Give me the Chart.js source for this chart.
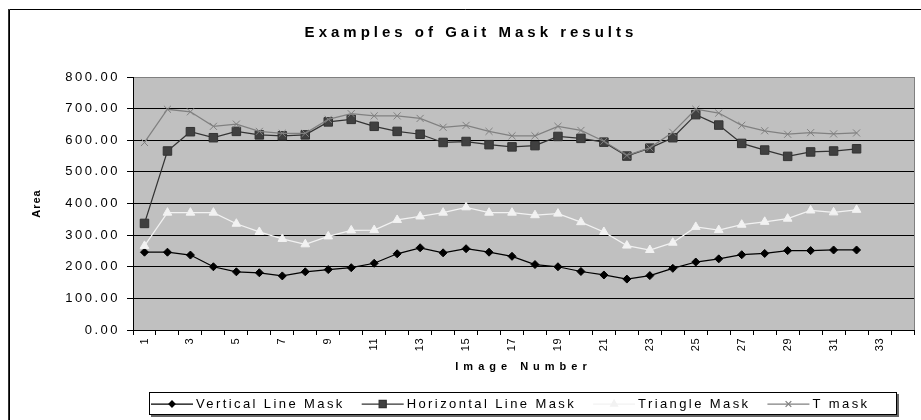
<!DOCTYPE html>
<html>
<head>
<meta charset="utf-8">
<title>Examples of Gait Mask results</title>
<script src="https://cdn.jsdelivr.net/npm/chart.js@4.4.0/dist/chart.umd.min.js"></script>
<style>
  html, body { margin: 0; padding: 0; background: #fff; }
  #wrap { width: 921px; height: 420px; }
</style>
</head>
<body>
<div id="wrap"><canvas id="chart" width="921" height="420"></canvas></div>
<script>
// Data
const imageNumbers = ['1', '2', '3', '4', '5', '6', '7', '8', '9', '10', '11', '12', '13', '14', '15', '16', '17',
    '18', '19', '20', '21', '22', '23', '24', '25', '26', '27', '28', '29', '30', '31', '32', '33', '34'];
const verticalLine = [246, 246, 237, 200, 184, 181, 171, 184, 191, 197, 211, 241, 260, 244, 257, 246,
    233, 207, 200, 185, 174, 161, 172, 195, 215, 225, 238, 242, 251, 251, 253, 253];
const horizontalLine = [337, 566, 627, 608, 628, 617, 614, 617, 658, 666, 644, 628, 619, 593, 596, 586,
    579, 583, 612, 606, 594, 550, 575, 608, 681, 648, 590, 569, 549, 563, 566, 573];
const triangleMask = [266, 371, 371, 371, 336, 310, 288, 271, 296, 315, 316, 348, 359, 371, 388, 371,
    371, 363, 368, 341, 310, 267, 253, 276, 326, 316, 333, 342, 352, 378, 372, 380];
const tMask = [593, 698, 690, 644, 651, 628, 622, 622, 666, 684, 677, 677, 669, 641, 647, 628,
    614, 614, 644, 631, 597, 552, 576, 625, 698, 686, 647, 630, 619, 624, 620, 623];

const chartTitle = 'Examples of Gait Mask results';
const FONT = '"Liberation Sans", Arial, sans-serif';

// Excel-like plot background, frame and right border
const plotFrame = {
    id: 'plotFrame',
    beforeDraw(chart) {
        const { ctx, chartArea: a } = chart;
        ctx.save();
        ctx.fillStyle = '#c0c0c0';
        ctx.fillRect(a.left, a.top, a.right - a.left, a.bottom - a.top);
        // outer chart frame (cropped on the right and bottom)
        ctx.strokeStyle = '#000';
        ctx.lineWidth = 1;
        ctx.beginPath();
        ctx.moveTo(9.5, 420);
        ctx.lineTo(9.5, 9.5);
        ctx.lineTo(921, 9.5);
        ctx.stroke();
        ctx.fillStyle = '#333';
        ctx.fillRect(8, 9, 1, 411);
        ctx.restore();
    },
    beforeDatasetsDraw(chart) {
        const { ctx, chartArea: a } = chart;
        ctx.save();
        ctx.strokeStyle = '#808080';
        ctx.lineWidth = 1;
        ctx.beginPath();
        ctx.moveTo(Math.round(a.right) + 0.5, a.top);
        ctx.lineTo(Math.round(a.right) + 0.5, a.bottom);
        ctx.stroke();
        ctx.restore();
    }
};

// Chart.js has no letter spacing option, so wrap the scale text drawing
const spacedText = {
    id: 'spacedText',
    afterUpdate(chart) {
        const wrap = (scale, labels, title) => {
            if (scale._spaced) return;
            scale._spaced = true;
            const drawLabels = scale.drawLabels;
            const drawTitle = scale.drawTitle;
            scale.drawLabels = function (area) {
                this.ctx.letterSpacing = labels;
                drawLabels.call(this, area);
                this.ctx.letterSpacing = '0px';
            };
            scale.drawTitle = function () {
                this.ctx.letterSpacing = title;
                drawTitle.call(this);
                this.ctx.letterSpacing = '0px';
            };
        };
        wrap(chart.scales.x, '0.5px', '5px');
        wrap(chart.scales.y, '2.5px', '1px');
    }
};

// Title and boxed legend in the old Excel style
const titleAndLegend = {
    id: 'titleAndLegend',
    afterDraw(chart) {
        const { ctx } = chart;
        ctx.save();
        ctx.fillStyle = '#000';
        ctx.font = `bold 15px ${FONT}`;
        ctx.letterSpacing = '4px';
        ctx.textAlign = 'center';
        ctx.textBaseline = 'middle';
        ctx.fillText(chartTitle, 471, 33);

        // legend box with shadow
        const box = { x: 149, y: 392, w: 748, h: 23 };
        ctx.fillStyle = '#666';
        ctx.fillRect(box.x + 2, box.y + 2, box.w, box.h);
        ctx.fillStyle = '#fff';
        ctx.fillRect(box.x, box.y, box.w, box.h);
        ctx.strokeStyle = '#000';
        ctx.lineWidth = 1;
        ctx.strokeRect(box.x + 0.5, box.y + 0.5, box.w - 1, box.h - 1);

        ctx.font = `13px ${FONT}`;
        ctx.letterSpacing = '2.4px';
        ctx.textAlign = 'left';
        const cy = box.y + box.h / 2 + 0.5;
        let x = box.x + 2;
        chart.data.datasets.forEach(ds => {
            ctx.strokeStyle = ds.borderColor;
            ctx.lineWidth = 1.25;
            ctx.beginPath();
            ctx.moveTo(x, cy);
            ctx.lineTo(x + 42, cy);
            ctx.stroke();
            ctx.fillStyle = ds.backgroundColor;
            Chart.helpers.drawPoint(ctx, {
                pointStyle: ds.pointStyle,
                radius: ds.pointRadius - 1,
                borderWidth: 1,
                rotation: 0
            }, x + 21, cy);
            ctx.fillStyle = '#000';
            ctx.fillText(ds.label, x + 45, cy);
            x += 45 + ctx.measureText(ds.label).width + 17;
        });
        ctx.restore();
    }
};

new Chart(document.getElementById('chart'), {
    type: 'line',
    data: {
        labels: imageNumbers,
        datasets: [
            {
                label: 'Vertical Line Mask',
                data: verticalLine,
                borderColor: '#000000',
                backgroundColor: '#000000',
                pointStyle: 'rectRot',
                pointRadius: 4,
                order: 4
            },
            {
                label: 'Horizontal Line Mask',
                data: horizontalLine,
                borderColor: '#333333',
                backgroundColor: '#404040',
                pointStyle: 'rect',
                pointRadius: 6,
                order: 3
            },
            {
                label: 'Triangle Mask',
                data: triangleMask,
                borderColor: '#f2f2f2',
                backgroundColor: '#f2f2f2',
                pointStyle: 'triangle',
                pointRadius: 5,
                order: 2
            },
            {
                label: 'T mask',
                data: tMask,
                borderColor: '#808080',
                backgroundColor: '#808080',
                pointStyle: 'crossRot',
                pointRadius: 5,
                order: 1
            }
        ]
    },
    options: {
        responsive: false,
        animation: false,
        layout: { padding: { left: 0, top: 77, right: 4, bottom: 0 } },
        elements: {
            line: { borderWidth: 1.25, tension: 0 },
            point: { borderWidth: 1, hoverRadius: 5 }
        },
        plugins: {
            legend: { display: false },
            title: { display: false },
            tooltip: { enabled: false }
        },
        scales: {
            x: {
                offset: true,
                grid: { offset: true, drawOnChartArea: false, color: '#000', tickColor: '#000', tickLength: 5 },
                border: { color: '#000', width: 1 },
                ticks: {
                    autoSkip: false,
                    minRotation: 90,
                    maxRotation: 90,
                    padding: 3,
                    color: '#000',
                    font: { family: FONT, size: 11 },
                    callback: function (value, index) {
                        return index % 2 === 0 ? this.getLabelForValue(value) : '';
                    }
                },
                title: {
                    display: true,
                    text: 'Image Number',
                    color: '#000',
                    font: { family: FONT, size: 11, weight: 'bold' },
                    padding: { top: 0, bottom: 46 }
                },
                afterFit: scale => { scale.height = 90; }
            },
            y: {
                min: 0,
                max: 800,
                grid: {
                    color: ctx => (ctx.tick && ctx.tick.value === 800 ? '#808080' : '#000'),
                    tickColor: '#000',
                    tickLength: 6
                },
                border: { color: '#000', width: 1 },
                ticks: {
                    stepSize: 100,
                    padding: 7,
                    color: '#000',
                    font: { family: FONT, size: 13 },
                    callback: value => value.toFixed(2)
                },
                title: {
                    display: true,
                    text: 'Area',
                    color: '#000',
                    font: { family: FONT, size: 11, weight: 'bold' },
                    padding: { top: 30 }
                },
                afterFit: scale => { scale.width = 133; }
            }
        }
    },
    plugins: [plotFrame, spacedText, titleAndLegend]
});
</script>
</body>
</html>
